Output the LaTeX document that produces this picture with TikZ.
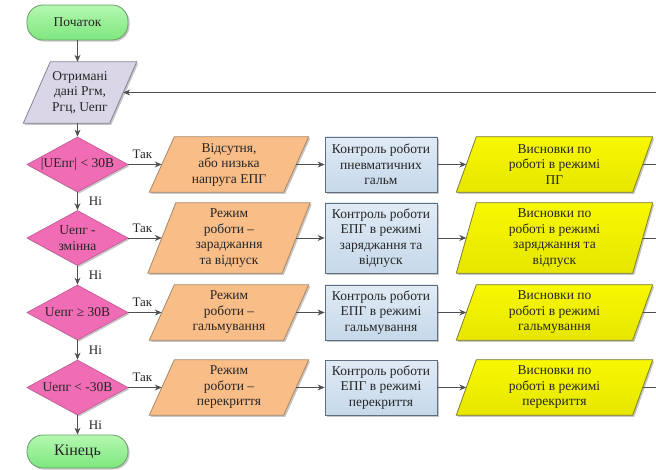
\documentclass[tikz,border=0pt]{standalone}
\usepackage{fontspec}
\setmainfont{Liberation Serif}
\usetikzlibrary{shapes.geometric,arrows.meta,shadows,backgrounds}
\definecolor{txt}{HTML}{262626}
\definecolor{arrc}{HTML}{505050}
\definecolor{termt}{HTML}{B4F8B0}
\definecolor{termb}{HTML}{7EE67E}
\definecolor{termd}{HTML}{6A9E6A}
\definecolor{datf}{HTML}{DAD6E8}
\definecolor{datd}{HTML}{858394}
\definecolor{diaf}{HTML}{F06CB4}
\definecolor{diad}{HTML}{C8609C}
\definecolor{orf}{HTML}{F9BD88}
\definecolor{ord}{HTML}{A88866}
\definecolor{blt}{HTML}{E0EBF5}
\definecolor{blb}{HTML}{C6D8EA}
\definecolor{bld}{HTML}{5F6F80}
\definecolor{yet}{HTML}{F8F800}
\definecolor{yeb}{HTML}{E6E600}
\definecolor{yed}{HTML}{85852E}
\newcommand\mypgram[3]{%
  \fill[black,opacity=0.22] ([xshift=#2+1.6pt,yshift=-1.6pt]#1.north west) -- ([xshift=#2+1.6pt,yshift=-1.6pt]#1.north east) -- ([xshift=-#2+1.6pt,yshift=-1.6pt]#1.south east) -- ([xshift=-#2+1.6pt,yshift=-1.6pt]#1.south west) -- cycle;
  \filldraw[#3] ([xshift=#2]#1.north west) -- ([xshift=#2]#1.north east) -- ([xshift=-#2]#1.south east) -- ([xshift=-#2]#1.south west) -- cycle;
}
\begin{document}
\begin{tikzpicture}[x=1pt,y=-1pt,
  base/.style={inner sep=0pt, align=center, text=txt, font=\fontsize{13.5}{15.5}\selectfont},
  shad/.style={drop shadow={shadow xshift=1.6pt,shadow yshift=-1.6pt,fill=black,opacity=0.22}},
  term/.style={base, shad, rounded corners=16pt, draw=termd, line width=0.8pt, top color=termt, bottom color=termb, minimum width=101pt},
  para/.style={base, draw=none},
  datastyle/.style={draw=datd, line width=0.8pt, fill=datf},
  orstyle/.style={draw=ord, line width=0.8pt, fill=orf},
  yestyle/.style={draw=yed, line width=0.8pt, top color=yet, bottom color=yeb},
  dia/.style={base, shad, diamond, aspect=1.84, draw=diad, line width=0.8pt, fill=diaf, minimum width=101pt, minimum height=55pt},
  blue/.style={base, shad, rectangle, draw=bld, line width=0.8pt, top color=blt, bottom color=blb, minimum width=112pt},
  arr/.style={draw=arrc, line width=0.9pt, -{Stealth[length=7pt,width=6pt]}},
  ln/.style={draw=arrc, line width=0.9pt},
  lbl/.style={base, font=\fontsize{13}{15}\selectfont}
]
\useasboundingbox (0,0) rectangle (656,470);

% nodes
\node[term, minimum height=35pt] (start) at (77.5,22.5) {Початок};
\node[para, minimum width=86pt, minimum height=61pt] (data) at (80,92.5) {Отримані\\дані Ргм,\\Ргц, Uепг};

\node[dia] (d1) at (77.5,164.5) {|UЕпг| < 30В};
\node[dia] (d2) at (77.5,238) {Uепг -\\змінна};
\node[dia] (d3) at (77.5,312.5) {Uепг ≥ 30В};
\node[dia] (d4) at (77.5,387.5) {Uепг < -30В};
\node[term, minimum height=33pt, font=\fontsize{16}{18}\selectfont] (end) at (77.5,451.5) {Кінець};

\node[para, minimum width=134pt, minimum height=55pt] (o1) at (229,164.5) {Відсутня,\\або низька\\напруга ЕПГ};
\node[para, minimum width=134pt, minimum height=70pt] (o2) at (229,238) {Режим\\роботи –\\зараджання\\та відпуск};
\node[para, minimum width=134pt, minimum height=55pt] (o3) at (229,312.5) {Режим\\роботи –\\гальмування};
\node[para, minimum width=134pt, minimum height=55pt] (o4) at (229,387.5) {Режим\\роботи –\\перекриття};

\node[blue, minimum height=55pt] (b1) at (381,164.5) {Контроль роботи\\пневматичних\\гальм};
\node[blue, minimum height=70pt] (b2) at (381,238) {Контроль роботи\\ЕПГ в режимі\\заряджання та\\відпуск};
\node[blue, minimum height=55pt] (b3) at (381,312.5) {Контроль роботи\\ЕПГ в режимі\\гальмування};
\node[blue, minimum height=55pt] (b4) at (381,387.5) {Контроль роботи\\ЕПГ в режимі\\перекриття};

\node[para, minimum width=176pt, minimum height=55pt] (y1) at (554.5,164.5) {Висновки по\\роботі в режимі\\ПГ};
\node[para, minimum width=176pt, minimum height=70pt] (y2) at (554.5,238) {Висновки по\\роботі в режимі\\заряджання та\\відпуск};
\node[para, minimum width=176pt, minimum height=55pt] (y3) at (554.5,312.5) {Висновки по\\роботі в режимі\\гальмування};
\node[para, minimum width=176pt, minimum height=55pt] (y4) at (554.5,387.5) {Висновки по\\роботі в режимі\\перекриття};

% parallelogram outlines
\begin{scope}[on background layer]
\fill[white] (0,0) rectangle (656,470);
\mypgram{data}{13.5pt}{datastyle}
\mypgram{o1}{12.5pt}{orstyle}
\mypgram{o2}{14pt}{orstyle}
\mypgram{o3}{12.5pt}{orstyle}
\mypgram{o4}{12.5pt}{orstyle}
\mypgram{y1}{10pt}{yestyle}
\mypgram{y2}{10pt}{yestyle}
\mypgram{y3}{10pt}{yestyle}
\mypgram{y4}{10pt}{yestyle}
\end{scope}

% connectors
\draw[arr] (start.south) -- (start.south |- data.north);
\draw[arr] (d1.north |- data.south) -- (d1.north);
\draw[arr] (d1.south) -- node[lbl, anchor=west, xshift=11pt]{Ні} (d2.north);
\draw[arr] (d2.south) -- node[lbl, anchor=west, xshift=11pt]{Ні} (d3.north);
\draw[arr] (d3.south) -- node[lbl, anchor=west, xshift=11pt]{Ні} (d4.north);
\draw[arr] (d4.south) -- node[lbl, anchor=west, xshift=11pt]{Ні} (end.north);

\coordinate (ret) at (656,92.5);
\draw[arr] (ret) -- (data.east);

\foreach \i in {1,2,3,4}{
  \draw[arr] (d\i.east) -- node[lbl, pos=0.42, yshift=10pt]{Так} (o\i.west);
  \draw[arr] (o\i.east) -- (b\i.west);
  \draw[arr] (b\i.east) -- (y\i.west);
}
\coordinate (r1) at (656,164.5);
\coordinate (r2) at (656,238);
\coordinate (r3) at (656,312.5);
\coordinate (r4) at (656,387.5);
\draw[ln] (y1.east) -- (r1);
\draw[ln] (y2.east) -- (r2);
\draw[ln] (y3.east) -- (r3);
\draw[ln] (y4.east) -- (r4);
\end{tikzpicture}
\end{document}
